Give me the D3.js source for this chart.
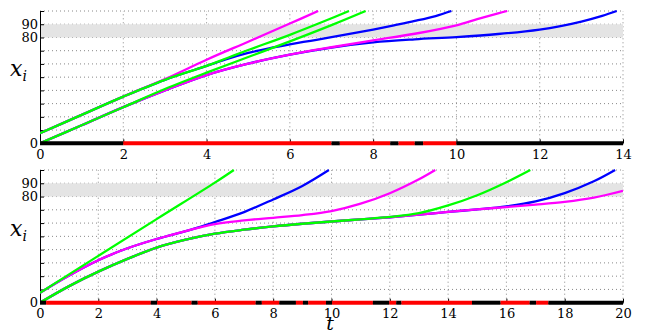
<!DOCTYPE html>
<html>
<head>
<meta charset="utf-8">
<script src="https://cdn.jsdelivr.net/npm/d3@7"></script>
<style>
  body { margin: 0; background: #fff; }
</style>
</head>
<body>
<svg width="649" height="336"></svg>
<script>
// values, [t, x_i]
var topMagentaA = [[0, 7.6], [1, 21.5], [2, 35.3], [3, 48.5], [4, 63.2], [5, 76.8], [6, 90.5], [6.68, 100]];
var topGreenA = [[0, 7.6], [1, 21.5], [2, 35.3], [3, 48], [4, 58.5], [4.5, 64.5], [5, 70.5], [6, 82], [7, 94.5], [7.42, 100]];
var topBlueA = [[0, 7.6], [1, 21.5], [2, 35.3], [3, 48], [4, 58.5], [4.5, 63.8], [5, 68.3], [5.5, 71.8], [6, 74.8], [6.5, 77.5], [7, 80.2], [7.5, 83], [8, 86], [8.5, 89.2], [9, 92.5], [9.5, 96.2], [9.88, 100]];
var topGreenB = [[0, 0], [1, 13.6], [2, 27.3], [3, 41], [4, 53.4], [5, 65.2], [6, 77], [7, 89.3], [7.82, 100]];
var topMagentaB = [[0, 0], [1, 13.6], [2, 27.3], [3, 40], [4, 51.6], [5, 60.2], [6, 67], [7, 72.6], [8, 77.8], [9, 82.8], [10, 89.2], [10.5, 93.8], [11, 98.2], [11.22, 100]];
var topBlueB = [[0, 0], [1, 13.6], [2, 27.3], [3, 40], [4, 51.6], [5, 60.2], [6, 67], [7, 72.4], [8, 76.3], [9, 78.6], [10, 80.3], [11, 82.6], [12, 86], [12.5, 88.6], [13, 92], [13.5, 96.3], [13.85, 100]];

var botGreenA = [[0, 7.5], [2, 35.3], [4, 63], [6, 90.5], [6.65, 100]];
var botMagentaA = [[0, 7.5], [1, 20.5], [2, 32], [3, 41], [4, 48], [5, 54], [6, 59.3], [7, 62], [8, 64], [9, 66], [10, 69], [11, 74.6], [12, 82.5], [13, 93], [13.56, 100]];
var botBlueA = [[0, 7.5], [1, 20.5], [2, 32], [3, 41], [4, 48], [5, 54], [5.5, 57.2], [6, 60.8], [7, 68.3], [8, 77.8], [9, 88], [9.91, 100]];
var botGreenB = [[0, 0], [1, 12.5], [2, 23.4], [3, 33], [4, 41.5], [5, 47.5], [6, 52], [7, 55], [8, 57.5], [9, 59.5], [10, 61.2], [11, 62.8], [12, 64.6], [13, 67.5], [14, 73.3], [15, 81], [16, 90.8], [16.82, 100]];
var botMagentaB = [[0, 0], [1, 12.5], [2, 23.4], [3, 33], [4, 41.5], [5, 47.5], [6, 52], [7, 55], [8, 57.5], [9, 59.5], [10, 61.2], [11, 62.8], [12, 64.4], [13, 66.3], [14, 68.4], [15, 70.3], [16, 72.1], [17, 73.9], [18, 76], [19, 79.2], [20, 84.3]];
var botBlueB = [[0, 0], [1, 12.5], [2, 23.4], [3, 33], [4, 41.5], [5, 47.5], [6, 52], [7, 55], [8, 57.5], [9, 59.5], [10, 61.2], [11, 62.8], [12, 64.4], [13, 66.3], [14, 68.4], [15, 70.3], [16, 72.6], [17, 76.3], [18, 82.6], [19, 91.5], [19.73, 100]];

// state bar along t axis: [from, to, state]
var topBar = [[0, 2, 0], [2, 7.0, 1], [7.0, 7.2, 0], [7.2, 8.41, 1], [8.41, 8.61, 0], [8.61, 9.0, 1], [9.0, 9.2, 0], [9.2, 10, 1], [10, 14, 0]];
var botBar = [[0, 0.21, 0], [0.21, 3.8, 1], [3.8, 4.02, 0], [4.02, 5.2, 1], [5.2, 5.41, 0], [5.41, 7.4, 1], [7.4, 7.61, 0], [7.61, 8.21, 1], [8.21, 8.78, 0], [8.78, 9.02, 1], [9.02, 9.2, 0], [9.2, 9.81, 1], [9.81, 10.02, 0], [10.02, 11.42, 1], [11.42, 11.98, 0], [11.98, 12.22, 1], [12.22, 12.4, 0], [12.4, 14.82, 1], [14.82, 15.8, 0], [15.8, 16.8, 1], [16.8, 17.02, 0], [17.02, 17.44, 1], [17.44, 20, 0]];

var topXTicks = [0, 2, 4, 6, 8, 10, 12, 14];
var botXTicks = [0, 2, 4, 6, 8, 10, 12, 14, 16, 18, 20];
var yGrid = [0, 10, 20, 30, 40, 50, 60, 70, 80, 90, 100];
var yLabels = [0, 80, 90];
var band = [80, 90];

var serif = "DejaVu Serif";
var svg = d3.select("svg");

function panel(opt) {
    var x = d3.scaleLinear().domain([0, opt.tmax]).range([40, 623]);
    var y = d3.scaleLinear().domain([0, 100]).range([opt.y0, opt.y1]);
    var g = svg.append("g");

    // dotted grid
    g.selectAll(".vg").data(opt.xticks.filter(function (d) { return d > 0; }))
        .enter().append("line")
        .attr("x1", function (d) { return x(d); }).attr("x2", function (d) { return x(d); })
        .attr("y1", y(0)).attr("y2", y(100))
        .attr("stroke", "#888").attr("stroke-width", 1).attr("stroke-dasharray", "1,3");
    g.selectAll(".hg").data(yGrid.filter(function (d) { return d > 0; }))
        .enter().append("line")
        .attr("x1", x(0)).attr("x2", x(opt.tmax))
        .attr("y1", function (d) { return y(d); }).attr("y2", function (d) { return y(d); })
        .attr("stroke", "#888").attr("stroke-width", 1).attr("stroke-dasharray", "1,3");

    // grey band
    g.append("rect")
        .attr("x", x(0) + 1).attr("width", x(opt.tmax) - x(0) - 1)
        .attr("y", y(band[1])).attr("height", y(band[0]) - y(band[1]))
        .attr("fill", "#e4e4e4");

    // left axis
    var yAxis = d3.axisLeft(y).tickValues(yGrid).tickSizeInner(-4).tickSizeOuter(0).tickFormat("");
    g.append("g").attr("transform", "translate(" + x(0) + ",0)").call(yAxis)
        .call(function (a) { a.selectAll("path, line").attr("stroke", "#000"); });

    g.selectAll(".yl").data(yLabels).enter().append("text")
        .attr("x", x(0) - 2).attr("y", function (d) { return y(d) + 4.5; })
        .attr("text-anchor", "end").attr("font-family", serif).attr("font-size", 13)
        .text(function (d) { return d; });

    // x axis
    var xAxis = d3.axisBottom(x).tickValues(opt.xticks).tickSizeInner(-4).tickSizeOuter(0).tickPadding(6);
    g.append("g").attr("transform", "translate(0," + y(0) + ")").call(xAxis)
        .attr("font-family", serif).attr("font-size", 13)
        .call(function (a) {
            a.selectAll("path, line").attr("stroke", "#000");
            a.selectAll("text").attr("fill", "#000");
        });

    // curves
    var clipId = "clip" + opt.id;
    svg.append("clipPath").attr("id", clipId).append("rect")
        .attr("x", x(0)).attr("y", y(100) - 1).attr("width", x(opt.tmax) - x(0)).attr("height", y(0) - y(100) + 2);
    var line = d3.line().x(function (d) { return x(d[0]); }).y(function (d) { return y(d[1]); })
        .curve(d3.curveCatmullRom.alpha(0.5));
    var cg = g.append("g").attr("clip-path", "url(#" + clipId + ")");
    opt.curves.forEach(function (c) {
        cg.append("path").datum(c.data)
            .attr("d", line).attr("fill", "none")
            .attr("stroke", c.color).attr("stroke-width", 2.3);
    });

    // state bar
    g.selectAll(".bar").data(opt.bar).enter().append("line")
        .attr("x1", function (d) { return x(d[0]); }).attr("x2", function (d) { return x(d[1]); })
        .attr("y1", y(0)).attr("y2", y(0))
        .attr("stroke", function (d) { return d[2] ? "#ff0000" : "#000000"; })
        .attr("stroke-width", 4);

    // y label
    var lab = g.append("text").attr("x", 10).attr("y", opt.labelY)
        .attr("font-family", serif).attr("font-size", 22).attr("font-style", "italic");
    lab.append("tspan").text("x");
    lab.append("tspan").attr("font-size", 14).attr("dy", 5).text("i");
}

panel({
    id: 1, tmax: 14, y0: 143.3, y1: 11, xticks: topXTicks, bar: topBar, labelY: 76,
    curves: [
        { data: topBlueA, color: "#0000ff" }, { data: topBlueB, color: "#0000ff" },
        { data: topMagentaA, color: "#ff00ff" }, { data: topMagentaB, color: "#ff00ff" },
        { data: topGreenA, color: "#00ff00" }, { data: topGreenB, color: "#00ff00" }
    ]
});

panel({
    id: 2, tmax: 20, y0: 302.7, y1: 170, xticks: botXTicks, bar: botBar, labelY: 236,
    curves: [
        { data: botBlueA, color: "#0000ff" }, { data: botBlueB, color: "#0000ff" },
        { data: botMagentaA, color: "#ff00ff" }, { data: botMagentaB, color: "#ff00ff" },
        { data: botGreenA, color: "#00ff00" }, { data: botGreenB, color: "#00ff00" }
    ]
});

svg.append("text").attr("x", 330).attr("y", 330).attr("text-anchor", "middle")
    .attr("font-family", serif).attr("font-size", 19).attr("font-style", "italic").text("t");
</script>
</body>
</html>
